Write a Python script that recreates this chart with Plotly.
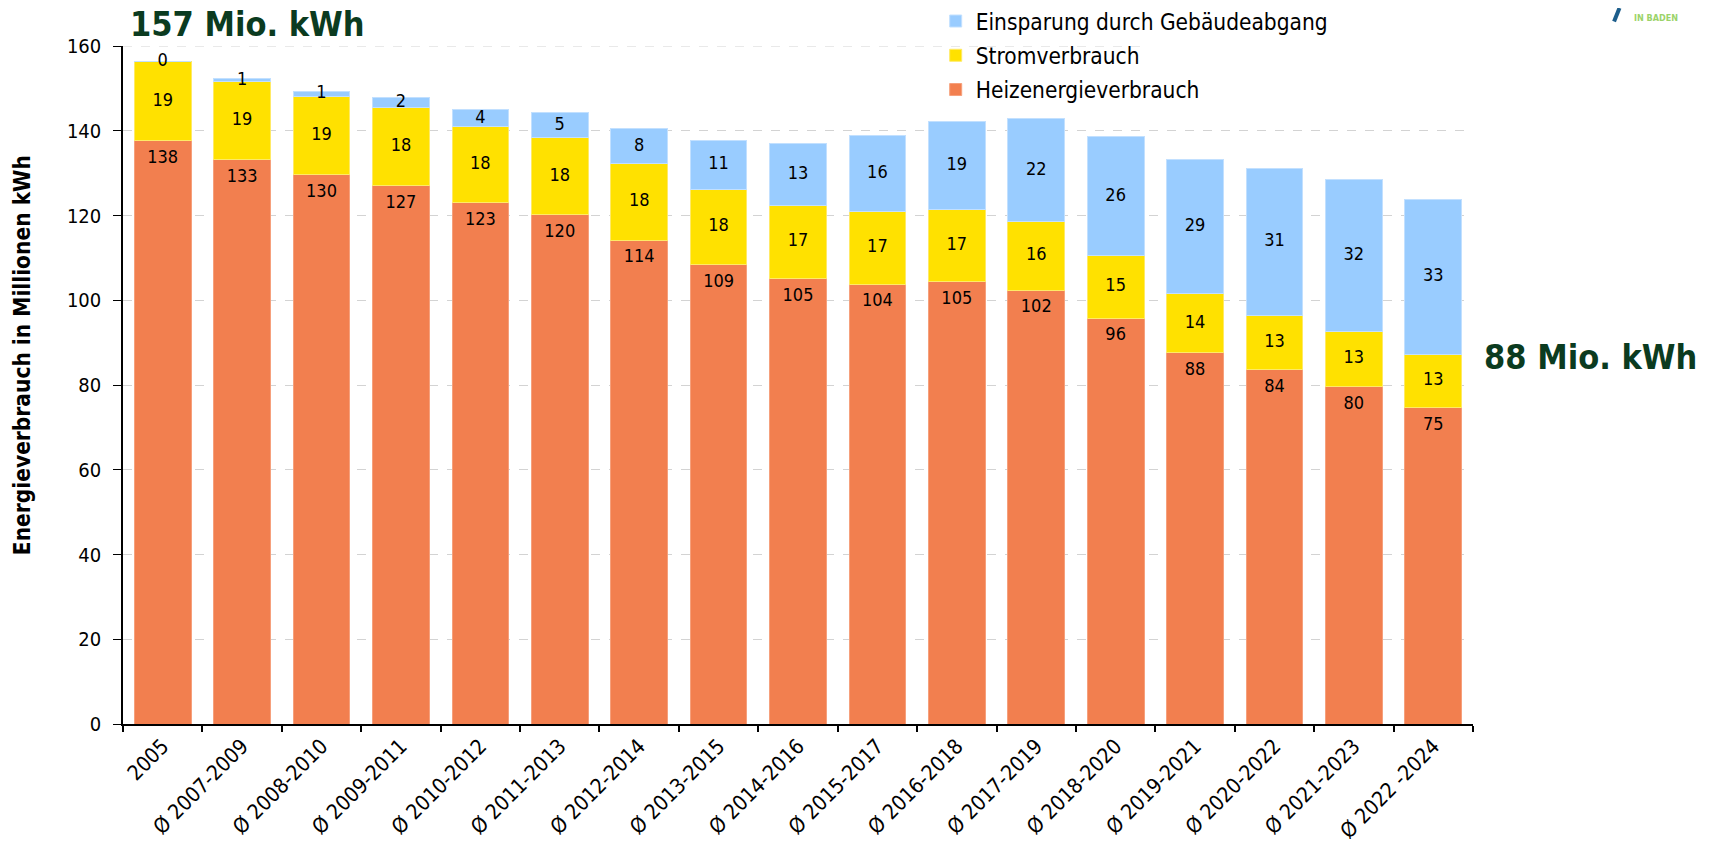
import plotly.graph_objects as go

categories = ["2005", "Ø 2007-2009", "Ø 2008-2010", "Ø 2009-2011", "Ø 2010-2012",
              "Ø 2011-2013", "Ø 2012-2014", "Ø 2013-2015", "Ø 2014-2016", "Ø 2015-2017",
              "Ø 2016-2018", "Ø 2017-2019", "Ø 2018-2020", "Ø 2019-2021", "Ø 2020-2022",
              "Ø 2021-2023", "Ø 2022 -2024"]

# bar heights
heiz = [137.7, 133.2, 129.6, 127.1, 123.1, 120.2, 114.2, 108.5, 105.2, 103.8,
        104.4, 102.4, 95.8, 87.7, 83.7, 79.7, 74.6]
strom = [18.6, 18.5, 18.6, 18.3, 18.0, 18.1, 18.0, 17.7, 17.1, 17.2,
         16.9, 16.2, 14.7, 13.8, 12.8, 12.9, 12.7]
einsp = [0.0, 0.55, 1.1, 2.5, 3.8, 6.0, 8.3, 11.5, 14.7, 17.9,
         20.8, 24.2, 28.2, 31.7, 34.6, 35.9, 36.5]

# printed data labels
heiz_lbl = [138, 133, 130, 127, 123, 120, 114, 109, 105, 104, 105, 102, 96, 88, 84, 80, 75]
strom_lbl = [19, 19, 19, 18, 18, 18, 18, 18, 17, 17, 17, 16, 15, 14, 13, 13, 13]
einsp_lbl = [0, 1, 1, 2, 4, 5, 8, 11, 13, 16, 19, 22, 26, 29, 31, 32, 33]

names = ["Heizenergieverbrauch", "Stromverbrauch", "Einsparung durch Gebäudeabgang"]
colors = ["#F27F4F", "#FFE100", "#99CCFF"]
edge = ["#F6A07C", "#FFEA66", "#C2E0FF"]
ranks = [3, 2, 1]

FONT = "DejaVu Sans Condensed, DejaVu Sans, sans-serif"
GREEN = "#0B3B20"
HEIZ_LABEL_DROP = 4.2  # heating labels sit just inside the top of the segment

fig = go.Figure()
series = [heiz, strom, einsp]
labels = [heiz_lbl, strom_lbl, einsp_lbl]
base = [0.0] * len(categories)
for i, (vals, lbls) in enumerate(zip(series, labels)):
    fig.add_trace(go.Bar(
        x=categories, y=vals, name=names[i],
        marker=dict(color=colors[i], line=dict(color=edge[i], width=1)),
        legendgroup=names[i], legendrank=ranks[i], hoverinfo="skip",
    ))
    if i == 0:
        pos = [b + v - HEIZ_LABEL_DROP for b, v in zip(base, vals)]
    else:
        pos = [b + v / 2 for b, v in zip(base, vals)]
    fig.add_trace(go.Scatter(
        x=categories, y=pos, mode="text", text=[str(l) for l in lbls],
        textfont=dict(family=FONT, size=18, color="#000000"),
        showlegend=False, cliponaxis=False, hoverinfo="skip",
    ))
    base = [b + v for b, v in zip(base, vals)]

# the page body adds an 8px offset, so the figure is 8px smaller than the window
fig.update_layout(
    barmode="stack",
    bargap=0.286,
    width=1701, height=835,
    margin=dict(l=115, r=236, t=38, b=119, autoexpand=False),
    paper_bgcolor="white", plot_bgcolor="white",
    font=dict(family=FONT, size=18, color="#000000"),
    showlegend=True,
    legend=dict(
        x=0.602, y=1.068, xanchor="left", yanchor="top",
        traceorder="grouped", tracegroupgap=2,
        bgcolor="rgba(255,255,255,0)", borderwidth=0,
        font=dict(family=FONT, size=22.5, color="#000000"),
        itemwidth=30,
    ),
    xaxis=dict(
        type="category", range=[-0.5, len(categories) - 0.5],
        tickangle=-45, tickson="boundaries",
        ticks="outside", ticklen=6, tickcolor="#000000", tickwidth=1.5,
        showline=True, linecolor="#000000", linewidth=1.5,
        showgrid=False, tickfont=dict(family=FONT, size=21), automargin=False,
    ),
    yaxis=dict(
        range=[0, 160], dtick=20, ticks="outside", ticklen=8,
        tickcolor="#000000", tickwidth=1.2, ticklabelstandoff=8,
        showline=True, linecolor="#000000", linewidth=1.5,
        showgrid=True, gridcolor="#D3D3D3", griddash="dash", gridwidth=1,
        zeroline=False, tickfont=dict(family=FONT, size=20), automargin=False,
    ),
)

# y-axis title (sits a little above the axis middle in the original)
fig.add_annotation(text="<b>Energieverbrauch in Millionen kWh</b>", textangle=-90,
                   xref="paper", yref="paper", x=-0.0748, y=0.544,
                   xanchor="center", yanchor="middle", showarrow=False,
                   font=dict(family=FONT, size=22.5, color="#000000"))

# top (160) gridline, which stops where the legend/logo area begins
fig.add_shape(type="line", xref="paper", yref="y", x0=0, x1=0.754, y0=160, y1=160,
              line=dict(color="#D3D3D3", width=1, dash="dash"), layer="below")

fig.add_annotation(text="<b>157 Mio. kWh</b>", xref="paper", yref="paper",
                   x=0.004, y=1.033, xanchor="left", yanchor="middle", showarrow=False,
                   font=dict(family=FONT, size=34, color=GREEN))
fig.add_annotation(text="<b>88 Mio. kWh</b>", xref="paper", yref="y",
                   x=1.007, y=86.5, xanchor="left", yanchor="middle", showarrow=False,
                   font=dict(family=FONT, size=34, color=GREEN))

# partial logo in the top-right corner
fig.add_shape(type="line", xref="paper", yref="paper", x0=1.1085, y0=1.056, x1=1.1045, y1=1.036,
              line=dict(color="#1D5E8C", width=4))
fig.add_annotation(text="<b>IN BADEN</b>", xref="paper", yref="paper",
                   x=1.1178, y=1.041, xanchor="left", yanchor="middle", showarrow=False,
                   font=dict(family=FONT, size=9, color="#9BD36A"))

fig.write_html("out.html")
